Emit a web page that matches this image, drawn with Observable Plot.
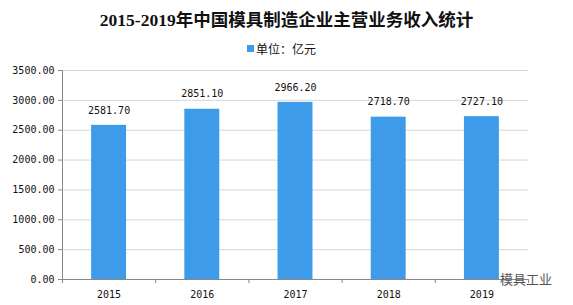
<!DOCTYPE html>
<html>
<head>
<meta charset="utf-8">
<script src="https://cdn.jsdelivr.net/npm/d3@7"></script>
<script src="https://cdn.jsdelivr.net/npm/@observablehq/plot@0.6"></script>
<style>
  html, body { margin: 0; padding: 0; background: #fff; }
  #wrap { position: relative; width: 573px; height: 305px; overflow: hidden; }
  #title { position: absolute; left: 0; top: 6px; width: 573px; text-align: center;
    font-family: "Liberation Serif", "Noto Sans CJK SC", serif; font-weight: bold; font-size: 17.5px; color: #111; white-space: nowrap; }
  #legend { position: absolute; left: 247px; top: 40px; font-family: "Noto Sans CJK SC", sans-serif; font-size: 12px; color: #111; display: flex; align-items: center; }
  #legend .sw { width: 7px; height: 7px; background: #3d9be9; margin-right: 2px; }
  #mark { position: absolute; left: 500px; top: 269px; font-family: "Noto Sans CJK SC", sans-serif; font-size: 13px; color: #555; }
  #plot { position: absolute; left: 0; top: 0; }
</style>
</head>
<body>
<div id="wrap">
  <div id="plot"></div>
  <div id="title">2015-2019年中国模具制造企业主营业务收入统计</div>
  <div id="legend"><span class="sw"></span><span>单位：亿元</span></div>
  <div id="mark">模具工业</div>
</div>
<script>
const years = [2015, 2016, 2017, 2018, 2019];
const revenue = [2581.7, 2851.1, 2966.2, 2718.7, 2727.1];
const yTicks = [0, 500, 1000, 1500, 2000, 2500, 3000, 3500];
const bandEdges = [2014.5, 2015.5, 2016.5, 2017.5, 2018.5, 2019.5];

const data = years.map((y, i) => ({year: y, value: revenue[i]}));
const half = 0.1875;
const mono = "DejaVu Sans Mono, monospace";

const chart = Plot.plot({
  width: 573,
  height: 305,
  marginLeft: 62,
  marginRight: 45,
  marginTop: 70,
  marginBottom: 26,
  style: {fontFamily: mono, fontSize: "10px", color: "#111", background: "transparent"},
  x: {domain: [2014.5, 2019.5]},
  y: {domain: [0, 3500]},
  marks: [
    Plot.gridY(yTicks, {stroke: "#d6d6d6", strokeOpacity: 1}),
    Plot.rectY(data, {x1: d => d.year - half, x2: d => d.year + half, y: "value", fill: "#3d9be9"}),
    Plot.ruleX([2014.5], {stroke: "#888"}),
    Plot.ruleY([0], {stroke: "#888"}),
    Plot.axisY(yTicks, {tickFormat: d => d.toFixed(2), tickSize: 4, tickPadding: 4, stroke: "#888", fill: "#111", label: null}),
    Plot.axisX(bandEdges, {tickSize: 4, tickFormat: () => "", stroke: "#888", label: null}),
    Plot.axisX(years, {tickSize: 0, tickPadding: 11, tickFormat: d => String(d), fill: "#111", label: null}),
    Plot.text(data, {x: "year", y: "value", text: d => d.value.toFixed(2), dy: -15, fill: "#111"})
  ]
});
document.getElementById("plot").appendChild(chart);
</script>
</body>
</html>
